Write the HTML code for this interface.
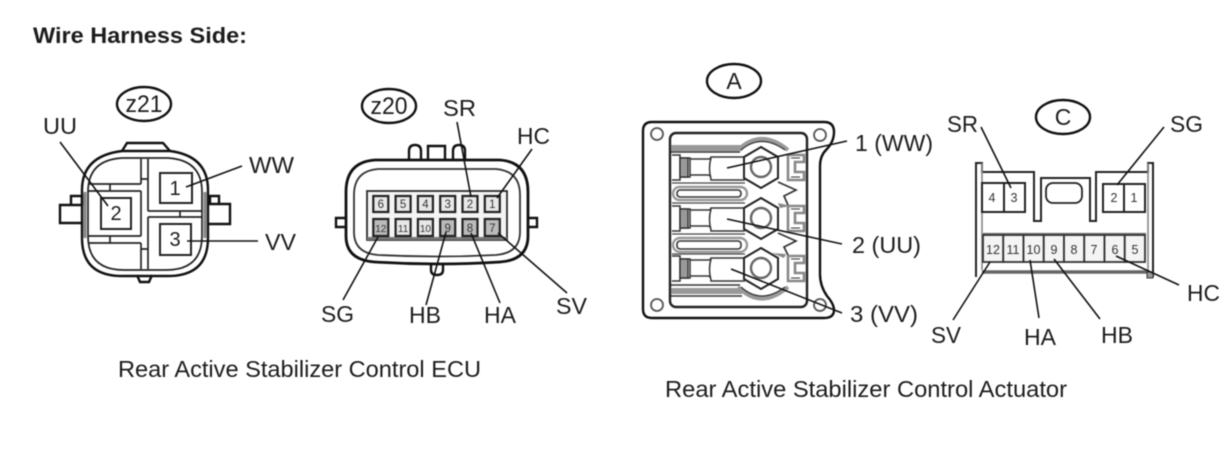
<!DOCTYPE html>
<html>
<head>
<meta charset="utf-8">
<style>
html,body{margin:0;padding:0;background:#fff;width:1228px;height:474px;overflow:hidden}
svg{display:block;filter:blur(0.45px)}
text{font-family:"Liberation Sans",sans-serif;fill:#1c1c1c}
.l{font-size:23px}
.t{font-size:23px}
.n{font-size:20px;text-anchor:middle}
.s{font-size:11.5px;text-anchor:middle;fill:#333}
.c{font-size:12.5px;text-anchor:middle;fill:#333}
.o{fill:none;stroke:#111;stroke-width:2.4}
.m{fill:none;stroke:#222;stroke-width:1.7}
.g{fill:none;stroke:#888;stroke-width:3}
.w{fill:#fff;stroke:#222;stroke-width:2}
.f{stroke:#111;stroke-width:1.6;fill:none}
</style>
</head>
<body>
<svg width="1228" height="474" viewBox="0 0 1228 474" xmlns="http://www.w3.org/2000/svg">
<rect width="1228" height="474" fill="#fff"/>
<text x="33" y="43" font-weight="bold" font-size="22" textLength="214" lengthAdjust="spacingAndGlyphs">Wire Harness Side:</text>
<text x="118" y="377" class="t" textLength="363" lengthAdjust="spacingAndGlyphs">Rear Active Stabilizer Control ECU</text>
<text x="665" y="397" class="t" textLength="402" lengthAdjust="spacingAndGlyphs">Rear Active Stabilizer Control Actuator</text>

<!-- z21 -->
<ellipse cx="144" cy="104" rx="27" ry="17" class="o"/>
<text x="144" y="112" font-size="24" text-anchor="middle" textLength="37" lengthAdjust="spacingAndGlyphs">z21</text>
<path class="o" d="M122 151 L127 143 H163 L170 151"/>
<path class="o" d="M137 275 L140 282 H149 L152 275"/>
<path class="o" d="M82 205 H60 V223 H82 M82 205 V196 H71 V205"/>
<path class="o" d="M208 204 H230 V224 H208 M210 204 V196 H219 V204"/>
<path class="o" fill="#fff" d="M122 151 H170 Q208 156 208 190 V238 Q208 276 168 276 H122 Q82 276 82 238 V190 Q82 156 122 151 Z"/>
<path class="m" d="M122 158 H168 Q202 160 202 192 V236 Q202 270 166 270 H124 Q88 270 88 236 V192 Q88 160 122 158 Z"/>
<path class="g" d="M85 192 V238 M205 192 V238"/>
<path class="m" d="M141 159 V184 M148 159 V211 M148 217 V269 M141 191 V236 M141 243 V269 M88 184 H141 M88 191 H141 M88 236 H141 M88 243 H141 M148 211 H202 M148 217 H202"/>
<path class="m" d="M110 184 V191 M110 236 V243 M141 179 H148 M141 249 H148 M180 211 V217"/>
<rect x="160" y="173" width="32" height="30" class="w"/>
<rect x="101" y="198" width="30" height="31" class="w"/>
<rect x="160" y="224" width="31" height="31" class="w"/>
<text x="175" y="195" class="n">1</text>
<text x="116" y="220" class="n">2</text>
<text x="175" y="246" class="n">3</text>
<path class="f" d="M60 142 L108 206 M242 166 L186 187 M258 241 L187 241"/>
<text x="43" y="134" class="l" textLength="34" lengthAdjust="spacingAndGlyphs">UU</text>
<text x="249" y="173" class="l" textLength="45" lengthAdjust="spacingAndGlyphs">WW</text>
<text x="265" y="250" class="l" textLength="31" lengthAdjust="spacingAndGlyphs">VV</text>

<!-- z20 -->
<ellipse cx="389" cy="106" rx="27" ry="17" class="o"/>
<text x="389" y="114" font-size="24" text-anchor="middle" textLength="37" lengthAdjust="spacingAndGlyphs">z20</text>
<path class="o" d="M409 160 V151 Q409 145 415 145 Q421 145 421 151 V160 M428 160 V146 H445 V160 M453 160 V151 Q453 145 459 145 Q465 145 465 151 V160"/>
<path class="o" d="M346 218 H336 V227 H346 M528 218 H537 V227 H528"/>
<path class="o" d="M431 263 V270 Q431 275 437 275 Q443 275 443 270 V263"/>
<path class="o" stroke-width="2.8" fill="#fff" d="M375 160 H500 Q528 162 528 192 V236 Q528 260 500 262 Q437 266 375 262 Q346 260 346 236 V192 Q346 162 375 160 Z" style="stroke-width:2.8px"/>
<path d="M378 169 H496 Q520 171 520 195 V232 Q520 253 496 255 Q437 258 378 255 Q354 253 354 232 V195 Q354 171 378 169 Z" fill="none" stroke="#333" stroke-width="1.8"/>
<rect x="367" y="191" width="140" height="49" fill="#f4f4f4" stroke="#222" stroke-width="1.7"/>
<rect x="367" y="237" width="140" height="3" fill="#777"/>
<g fill="#e8e8e8" stroke="#222" stroke-width="2.2">
<rect x="373.3" y="196" width="15" height="16"/><rect x="395.6" y="196" width="15" height="16"/><rect x="417.9" y="196" width="15" height="16"/><rect x="440.2" y="196" width="15" height="16"/><rect x="462.5" y="196" width="15" height="16"/><rect x="484.8" y="196" width="15" height="16"/>
<rect x="373.3" y="219" width="15" height="17" fill="#bbb"/><rect x="395.6" y="219" width="15" height="17"/><rect x="417.9" y="219" width="15" height="17"/><rect x="440.2" y="219" width="15" height="17" fill="#bbb"/><rect x="462.5" y="219" width="15" height="17" fill="#bbb"/><rect x="484.8" y="219" width="15" height="17" fill="#bbb"/>
</g>
<g>
<text x="380.8" y="208" class="s">6</text><text x="403.1" y="208" class="s">5</text><text x="425.4" y="208" class="s">4</text><text x="447.7" y="208" class="s">3</text><text x="470" y="208" class="s">2</text><text x="492.3" y="208" class="s">1</text>
<text x="380.8" y="232" class="s" style="font-size:10px">12</text><text x="403.1" y="232" class="s" style="font-size:10px">11</text><text x="425.4" y="232" class="s" style="font-size:10px">10</text><text x="447.7" y="232" class="s">9</text><text x="470" y="232" class="s">8</text><text x="492.3" y="232" class="s">7</text>
</g>
<path class="f" d="M457 122 L471 197 M532 149 L497 198 M343 300 L378 237 M426 305 L446 232 M500 303 L471 233 M567 293 L498 233"/>
<text x="443" y="116" class="l" textLength="33" lengthAdjust="spacingAndGlyphs">SR</text>
<text x="517" y="144" class="l" textLength="33" lengthAdjust="spacingAndGlyphs">HC</text>
<text x="321" y="322" class="l" textLength="33" lengthAdjust="spacingAndGlyphs">SG</text>
<text x="409" y="323" class="l" textLength="32" lengthAdjust="spacingAndGlyphs">HB</text>
<text x="484" y="323" class="l" textLength="32" lengthAdjust="spacingAndGlyphs">HA</text>
<text x="556" y="314" class="l" textLength="31" lengthAdjust="spacingAndGlyphs">SV</text>

<!-- A -->
<ellipse cx="734" cy="81" rx="27" ry="17" class="o"/>
<text x="734" y="89" font-size="23" text-anchor="middle">A</text>
<path class="o" d="M652 122 H824 Q834 122 834 132 Q834 142 826 150 Q820 156 820 166 V274 Q820 286 827 296 Q834 304 834 310 Q834 318 824 318 H652 Q643 318 643 309 V131 Q643 122 652 122 Z"/>
<rect x="670" y="133" width="137" height="174" rx="6" fill="none" stroke="#222" stroke-width="2.4"/>
<circle cx="657" cy="134" r="6" fill="none" stroke="#555" stroke-width="1.8"/>
<circle cx="820" cy="135" r="6" fill="none" stroke="#555" stroke-width="1.8"/>
<circle cx="657" cy="305" r="6" fill="none" stroke="#555" stroke-width="1.8"/>
<circle cx="820" cy="305" r="6" fill="none" stroke="#555" stroke-width="1.8"/>
<path d="M671 148 H742 M671 291 H742" stroke="#999" stroke-width="6" fill="none"/>
<path d="M671 152 H740 M671 285 H740 M671 296 H742" stroke="#333" stroke-width="1.4" fill="none"/>
<path d="M672 183 H745 M672 203 H745 M672 234 H745 M672 254 H745" stroke="#444" stroke-width="1.2" fill="none"/>
<rect x="673" y="187" width="74" height="13" rx="6.5" fill="#fff" stroke="#999" stroke-width="2.4"/>
<rect x="677" y="190" width="64" height="7" rx="3" fill="#fff" stroke="#333" stroke-width="1.6"/>
<rect x="673" y="238" width="74" height="14" rx="7" fill="#fff" stroke="#999" stroke-width="2.4"/>
<rect x="677" y="241" width="64" height="8" rx="3" fill="#fff" stroke="#333" stroke-width="1.6"/>
<!-- arcs -->
<path d="M738 150 Q761 128 788 150 M738 287 Q761 310 788 287" fill="none" stroke="#999" stroke-width="4"/>
<path d="M741 150 Q761 133 785 150 M741 287 Q761 305 785 287" fill="none" stroke="#333" stroke-width="1.2"/>
<!-- terminals -->
<g id="t1">
<path d="M672 155 H680 V180 H672 M680 158 H690 V177 H680 M690 159 H708 Q711 159 711 157 H745 M690 175 H708 Q711 175 711 180 H745 M711 158 Q708 168 711 179" fill="none" stroke="#333" stroke-width="1.5"/>
<rect x="680" y="158" width="8" height="19" fill="#999" stroke="#222" stroke-width="1.2"/>
<polygon points="761,147 778,157 778,178 761,188 744,178 744,157" fill="#fff" stroke="#222" stroke-width="2"/>
<circle cx="761" cy="167" r="10" fill="none" stroke="#666" stroke-width="2.4"/>
<path d="M788 155 H804 V162 H795 V172 H804 V180 H788 Z" fill="none" stroke="#888" stroke-width="2.6"/>
<path d="M791 158 H800 M791 177 H800" stroke="#333" stroke-width="1" fill="none"/>
</g>
<use href="#t1" y="51"/>
<use href="#t1" y="101"/>
<path d="M778 182 L796 190 L784 196 L788 205 M778 233 L796 241 L784 247 L788 255" fill="none" stroke="#333" stroke-width="1.7"/>
<path d="M778 203 L787 205 L790 206 L780 208 Z M772 253 L786 254 L784 258 Z" fill="#888"/>
<path class="f" d="M847 141 L727 168 M842 244 L727 219 M842 313 L731 269"/>
<text x="855" y="151" class="l" textLength="78" lengthAdjust="spacingAndGlyphs">1 (WW)</text>
<text x="852" y="253" class="l" textLength="69" lengthAdjust="spacingAndGlyphs">2 (UU)</text>
<text x="850" y="322" class="l" textLength="68" lengthAdjust="spacingAndGlyphs">3 (VV)</text>

<!-- C -->
<ellipse cx="1063" cy="117" rx="27" ry="17" class="o"/>
<text x="1063" y="125" font-size="23" text-anchor="middle">C</text>
<path fill="none" stroke="#222" stroke-width="2" d="M976 277 V163 H982 V172 H1034 V221 H1041 V178 H1090 V221 H1096 V172 H1148 V163 H1153 V277"/>
<path d="M982 163 V270 M1148 163 V270" stroke="#888" stroke-width="1.6" fill="none"/>
<path d="M982 272 H1148" stroke="#666" stroke-width="3.4"/>
<path d="M983 234 H1146" stroke="#777" stroke-width="2.2"/>
<rect x="1147" y="272" width="6" height="6" fill="#999" stroke="#333"/>
<rect x="1046" y="183" width="36" height="20" rx="7" fill="#fff" stroke="#222" stroke-width="1.8"/>
<g fill="#fff" stroke="#222" stroke-width="2">
<rect x="982" y="183" width="22" height="29"/><rect x="1004" y="183" width="21" height="29"/>
<rect x="1103" y="184" width="21" height="28"/><rect x="1124" y="184" width="21" height="28"/>
</g>
<g fill="#f4f4f4" stroke="#333" stroke-width="1.8">
<rect x="983" y="235" width="20.25" height="27"/><rect x="1003.25" y="235" width="20.25" height="27"/><rect x="1023.5" y="235" width="20.25" height="27"/><rect x="1043.75" y="235" width="20.25" height="27"/><rect x="1064" y="235" width="20.25" height="27"/><rect x="1084.25" y="235" width="20.25" height="27"/><rect x="1104.5" y="235" width="20.25" height="27"/><rect x="1124.75" y="235" width="20.25" height="27"/>
</g>
<text x="992" y="202" class="c">4</text><text x="1014" y="202" class="c">3</text><text x="1114" y="202" class="c">2</text><text x="1134" y="202" class="c">1</text>
<text x="993" y="254" class="c">12</text><text x="1013" y="254" class="c">11</text><text x="1033.5" y="254" class="c">10</text><text x="1054" y="254" class="c">9</text><text x="1074" y="254" class="c">8</text><text x="1094" y="254" class="c">7</text><text x="1115" y="254" class="c">6</text><text x="1135" y="254" class="c">5</text>
<path class="f" d="M981 127 L1011 188 M1164 127 L1117 185 M953 320 L990 262 M1039 318 L1030 260 M1100 319 L1054 259 M1179 285 L1116 256"/>
<text x="947" y="132" class="l" textLength="31" lengthAdjust="spacingAndGlyphs">SR</text>
<text x="1170" y="132" class="l" textLength="33" lengthAdjust="spacingAndGlyphs">SG</text>
<text x="1187" y="301" class="l" textLength="33" lengthAdjust="spacingAndGlyphs">HC</text>
<text x="931" y="343" class="l" textLength="30" lengthAdjust="spacingAndGlyphs">SV</text>
<text x="1024" y="345" class="l" textLength="32" lengthAdjust="spacingAndGlyphs">HA</text>
<text x="1101" y="343" class="l" textLength="32" lengthAdjust="spacingAndGlyphs">HB</text>
</svg>
</body>
</html>
